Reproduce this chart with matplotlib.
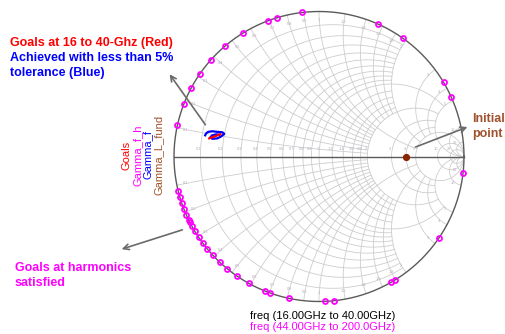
import numpy as np
import matplotlib
matplotlib.use("Agg")
import matplotlib.pyplot as plt

plt.rcParams['font.family'] = ['Liberation Sans', 'DejaVu Sans']

# grid values of the Smith chart (same set for resistance and reactance)
grid_values = [0.1, 0.2, 0.3, 0.4, 0.5, 0.6, 0.7, 0.8, 0.9, 1.0,
               1.2, 1.4, 1.6, 1.8, 2.0, 3.0, 4.0, 5.0, 10.0, 20.0]
# how far each grid line runs along the other coordinate
grid_limits = [2, 2, 2, 2, 2, 2, 2, 2, 2, 5,
               2, 2, 2, 2, 5, 5, 5, np.inf, np.inf, np.inf]

# Gamma_f_h : harmonic terminations (angle of reflection coefficient, deg)
gamma_fh_angle = [121.6, 130.3, 138.3, 145.3, 151.7, 158.7, 167.6,
                  110.8, 107.0, 96.6, 66.2, 54.5, 30.8, 24.1, -6.4,
                  -34.3, -58.2, -60.3, -84.1, -87.7, -102.1, -109.9, -111.7,
                  -166.1, -163.6, -161.1, -158.6, -156.4, -154.0, -153.1,
                  -151.3, -149.0, -146.2, -143.4, -140.3, -137.2, -133.3,
                  -129.2, -124.4, -119.0]
gamma_fh_mag = 1.0

# Gamma_f : achieved fundamental load, 16-40 GHz
gamma_f_re = [-0.785, -0.778, -0.764, -0.736, -0.701, -0.667, -0.653, -0.674,
              -0.701, -0.736, -0.750, -0.736, -0.708, -0.690]
gamma_f_im = [0.146, 0.160, 0.170, 0.174, 0.170, 0.167, 0.156, 0.139,
              0.125, 0.122, 0.132, 0.146, 0.153, 0.150]

# Goals, 16-40 GHz
goals_re = [-0.757, -0.681]
goals_im = [0.125, 0.153]

# Gamma_L_fund : initial point
gamma_L_fund_re = [0.6]
gamma_L_fund_im = [0.0]

W, H = 505, 334
fig = plt.figure(figsize=(W / 100, H / 100), dpi=100)
ax = fig.add_axes([0, 0, 1, 1])
R_PX, CX, CY = 145.0, 319.0, 156.5
ax.set_xlim(-CX / R_PX, (W - CX) / R_PX)
ax.set_ylim(-(H - CY) / R_PX, CY / R_PX)
ax.axis('off')


def px(x, y):
    # pixel position (from top-left) -> figure fraction
    return x / W, 1 - y / H


def gamma(z):
    return (z - 1) / (z + 1)


grid_kw = dict(color='#cdcdcd', lw=0.6, zorder=1)
lab_kw = dict(fontsize=2.8, color='#b8a8c0', ha='center', zorder=2)

for v, lim in zip(grid_values, grid_limits):
    a = np.arctan(lim) if np.isfinite(lim) else np.pi / 2 - 1e-4
    # constant resistance circle, reactance from -lim to lim
    g = gamma(v + 1j * np.tan(np.linspace(-a, a, 600)))
    ax.plot(g.real, g.imag, **grid_kw)
    ax.text(gamma(v) - 0.01, 0.035, f"{v:g}", va='bottom', **lab_kw)
    # constant reactance arcs, resistance from 0 to lim
    rr = np.tan(np.linspace(0, a, 600))
    for s in (1, -1):
        g = gamma(rr + 1j * s * v)
        ax.plot(g.real, g.imag, **grid_kw)
        g0 = 0.94 * gamma(1j * s * v)
        ax.text(g0.real, g0.imag, f"{v:g}", va='center', **lab_kw)

# outer circle and real axis
t = np.linspace(0, 2 * np.pi, 721)
ax.plot(np.cos(t), np.sin(t), color='#5a5a5a', lw=1.0, zorder=3)
ax.plot([-1, 1], [0, 0], color='#5a5a5a', lw=1.0, zorder=3)

# traces
ang = np.deg2rad(gamma_fh_angle)
ax.plot(gamma_fh_mag * np.cos(ang), gamma_fh_mag * np.sin(ang), 'o',
        ms=3.6, mfc='none', mec='#ff00ff', mew=1.3, zorder=5)
ax.plot(gamma_f_re, gamma_f_im, color='#0000ff', lw=1.6, zorder=5)
ax.plot(goals_re, goals_im, color='#ff0000', lw=1.6, zorder=6)
ax.plot(gamma_L_fund_re, gamma_L_fund_im, 'o', ms=4.2, color='#8b2500', zorder=6)

# annotations
fig.text(*px(10, 43), "Goals at 16 to 40-Ghz (Red)", color='#ff0000',
         fontsize=9, fontweight='bold', va='center')
fig.text(*px(10, 58), "Achieved with less than 5%", color='#0000ff',
         fontsize=9, fontweight='bold', va='center')
fig.text(*px(10, 73), "tolerance (Blue)", color='#0000ff',
         fontsize=9, fontweight='bold', va='center')
fig.text(*px(15, 268), "Goals at harmonics", color='#ff00ff',
         fontsize=9, fontweight='bold', va='center')
fig.text(*px(15, 283.5), "satisfied", color='#ff00ff',
         fontsize=9, fontweight='bold', va='center')
fig.text(*px(472, 119), "Initial", color='#a0522d',
         fontsize=9, fontweight='bold', va='center')
fig.text(*px(472, 134.5), "point", color='#a0522d',
         fontsize=9, fontweight='bold', va='center')

arrow_kw = dict(arrowstyle='->', color='#6a6a6a', lw=1.2, mutation_scale=10)
for tail, head in [((207, 127), (168, 72)),
                   ((185, 229), (119, 250)),
                   ((413, 148), (470, 126))]:
    ax.annotate('', xy=px(*head), xycoords='figure fraction',
                xytext=px(*tail), textcoords='figure fraction',
                arrowprops=arrow_kw, zorder=7)

# rotated trace names
for xpos, label, col in [(126.5, "Goals", '#ff0000'),
                         (137.5, "Gamma_f_h", '#ff00ff'),
                         (148, "Gamma_f", '#0000ff'),
                         (158.5, "Gamma_L_fund", '#a0522d')]:
    fig.text(*px(xpos, 155), label, color=col, fontsize=8, rotation=90,
             ha='center', va='center')

fig.text(*px(250, 316), "freq (16.00GHz to 40.00GHz)", color='black',
         fontsize=8, va='center')
fig.text(*px(250, 327.5), "freq (44.00GHz to 200.0GHz)", color='#ff00ff',
         fontsize=8, va='center')

fig.savefig("out.png", dpi=100)
